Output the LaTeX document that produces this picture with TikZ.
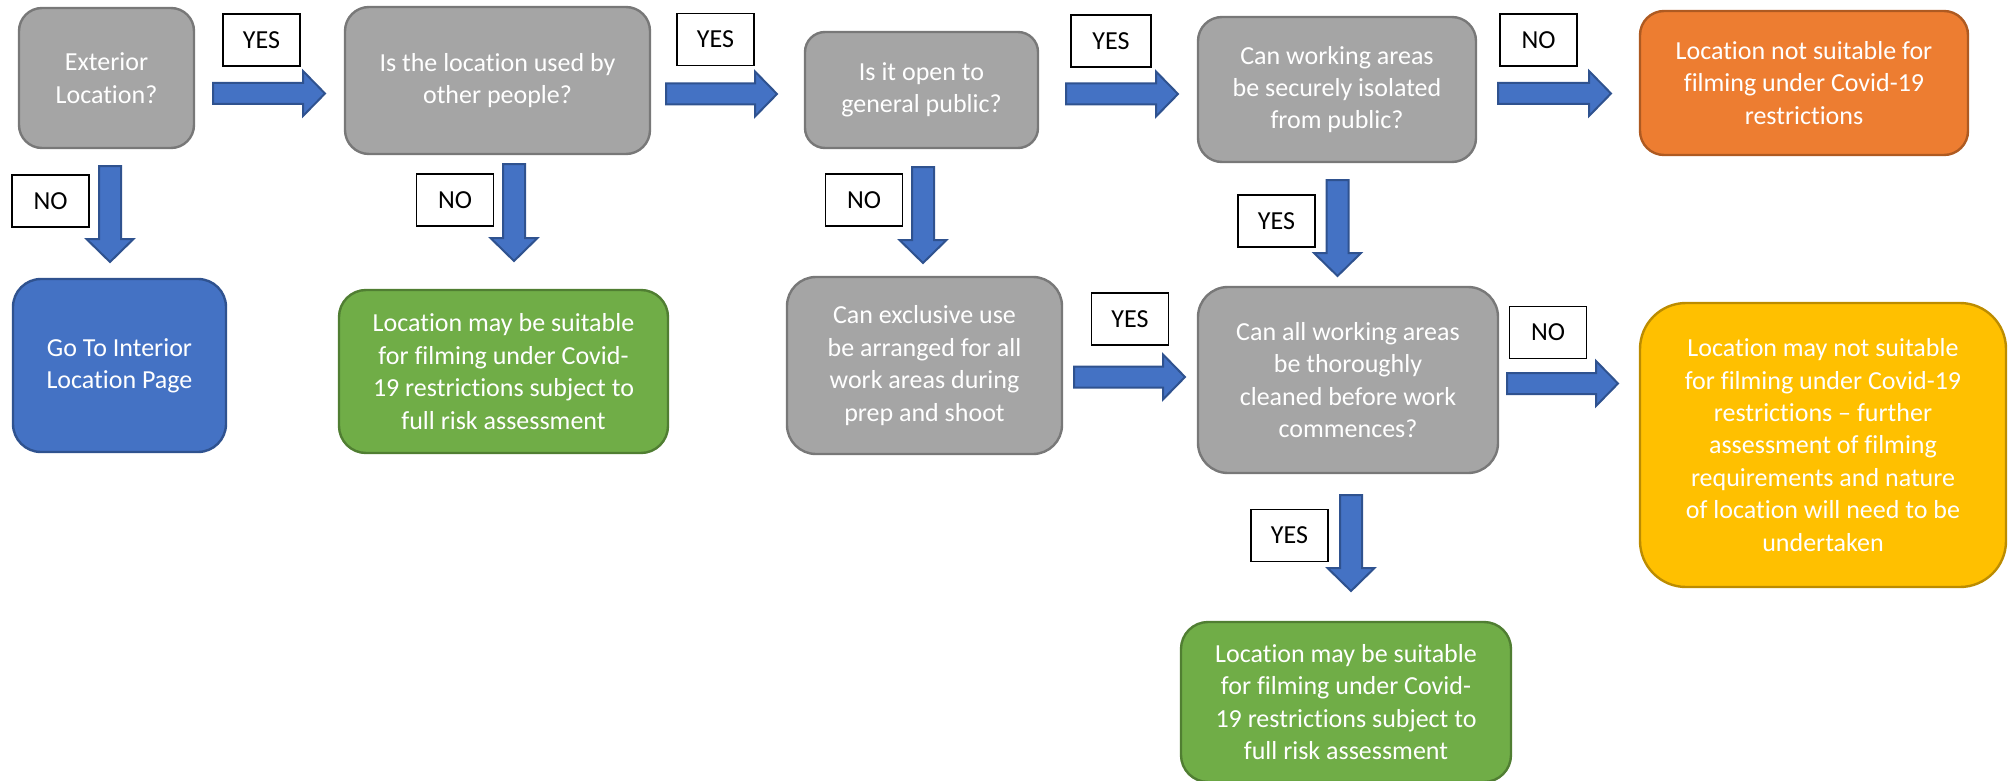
\documentclass[tikz,border=0pt]{standalone}
\usepackage{fontspec}
\setmainfont{Carlito}[Ligatures={NoCommon}]
\definecolor{gfill}{HTML}{A5A5A5}
\definecolor{gline}{HTML}{787878}
\definecolor{ofill}{HTML}{ED7D31}
\definecolor{oline}{HTML}{AE5A21}
\definecolor{bfill}{HTML}{4472C4}
\definecolor{bline}{HTML}{2F528F}
\definecolor{grfill}{HTML}{70AD47}
\definecolor{grline}{HTML}{507E32}
\definecolor{yfill}{HTML}{FFC000}
\definecolor{yline}{HTML}{BC8C00}
\tikzset{
  box/.style={draw, line width=1.2pt, inner sep=0pt, align=center, text=white,
    font=\fontsize{13pt}{16.2pt}\selectfont},
  graybox/.style={box, fill=gfill, draw=gline},
  orangebox/.style={box, fill=ofill, draw=oline},
  bluebox/.style={box, fill=bfill, draw=bline},
  greenbox/.style={box, fill=grfill, draw=grline},
  yellowbox/.style={box, fill=yfill, draw=yline},
  lab/.style={draw=black, fill=white, line width=0.7pt, minimum width=38.5pt,
    minimum height=26pt, inner sep=0pt, text=black,
    font=\fontsize{13pt}{16pt}\selectfont},
  blockarrow/.style={fill=bfill, draw=bline, line width=1pt, line join=miter}
}
% right block arrow: x start, x tip, y middle
\newcommand\RArrow[3]{%
  \draw[blockarrow] (#1,{#3-10.5}) -- ({#2-22},{#3-10.5}) -- ({#2-22},{#3-22.5})
    -- (#2,#3) -- ({#2-22},{#3+22.5}) -- ({#2-22},{#3+10.5}) -- (#1,{#3+10.5}) -- cycle;}
% down block arrow: x middle, y start, y tip
\newcommand\DArrow[3]{%
  \draw[blockarrow] ({#1-11},#2) -- ({#1-11},{#3-23}) -- ({#1-23.5},{#3-23})
    -- (#1,#3) -- ({#1+23.5},{#3-23}) -- ({#1+11},{#3-23}) -- ({#1+11},#2) -- cycle;}
\begin{document}
\begin{tikzpicture}[x=0.5pt, y=-0.5pt]
\useasboundingbox (0,0) rectangle (2013,781);

% boxes
\node[graybox, minimum width=87.5pt, minimum height=70pt, rounded corners=11.5pt] (ext) at (106.5,78)
  {Exterior\\Location?};
\node[graybox, minimum width=152.5pt, minimum height=73.5pt, rounded corners=12pt] (used) at (497.5,80.5)
  {Is the location used by\\other people?};
\node[graybox, minimum width=116.5pt, minimum height=58pt, rounded corners=10pt] (open) at (921.5,90)
  {Is it open to\\general public?};
\node[graybox, minimum width=139pt, minimum height=72.5pt, rounded corners=12pt] (isol) at (1337,89.5)
  {Can working areas\\be securely isolated\\from public?};
\node[orangebox, minimum width=164pt, minimum height=72pt, rounded corners=12pt] (notsuit) at (1804,83)
  {Location not suitable for\\filming under Covid-19\\restrictions};
\node[bluebox, minimum width=106.5pt, minimum height=86.5pt, rounded corners=14pt] (goto) at (119.5,365.5)
  {Go To Interior\\Location Page};
\node[greenbox, minimum width=164.5pt, minimum height=81.5pt, rounded corners=13.5pt] (suit1) at (503.5,371.5)
  {Location may be suitable\\for filming under Covid-\\19 restrictions subject to\\full risk assessment};
\node[graybox, minimum width=137.5pt, minimum height=88.5pt, rounded corners=14.5pt] (excl) at (924.5,365.5)
  {Can exclusive use\\be arranged for all\\work areas during\\prep and shoot};
\node[graybox, minimum width=150pt, minimum height=93pt, rounded corners=15pt] (clean) at (1348,380)
  {Can all working areas\\be thoroughly\\cleaned before work\\commences?};
\node[yellowbox, minimum width=183pt, minimum height=142pt, rounded corners=23pt] (maynot) at (1823,445)
  {Location may not suitable\\for filming under Covid-19\\restrictions \textendash{} further\\assessment of filming\\requirements and nature\\of location will need to be\\undertaken};
\node[greenbox, minimum width=165pt, minimum height=80pt, rounded corners=13.5pt] (suit2) at (1346,702)
  {Location may be suitable\\for filming under Covid-\\19 restrictions subject to\\full risk assessment};

% block arrows
\RArrow{213}{325}{93.5}
\RArrow{666}{777}{94}
\RArrow{1066}{1178}{94}
\RArrow{1498}{1611}{93.5}
\RArrow{1074}{1185}{377}
\RArrow{1507}{1618}{383.5}
\DArrow{110}{166}{262}
\DArrow{514}{164}{261}
\DArrow{923}{167}{263}
\DArrow{1337.5}{180}{276}
\DArrow{1351}{495}{591}

% labels
\node[lab] (y1) at (261.5,40) {YES};
\node[lab] (y2) at (715.5,39.5) {YES};
\node[lab, minimum width=40pt] (y3) at (1111,41) {YES};
\node[lab] (n0) at (1538.5,40) {NO};
\node[lab] (n1) at (50.5,201) {NO};
\node[lab] (n2) at (455,200) {NO};
\node[lab] (n3) at (864,200) {NO};
\node[lab] (y5) at (1276.5,221) {YES};
\node[lab] (y4) at (1130,319) {YES};
\node[lab] (n4) at (1548,332.5) {NO};
\node[lab] (y6) at (1289.5,535.5) {YES};
\end{tikzpicture}
\end{document}
